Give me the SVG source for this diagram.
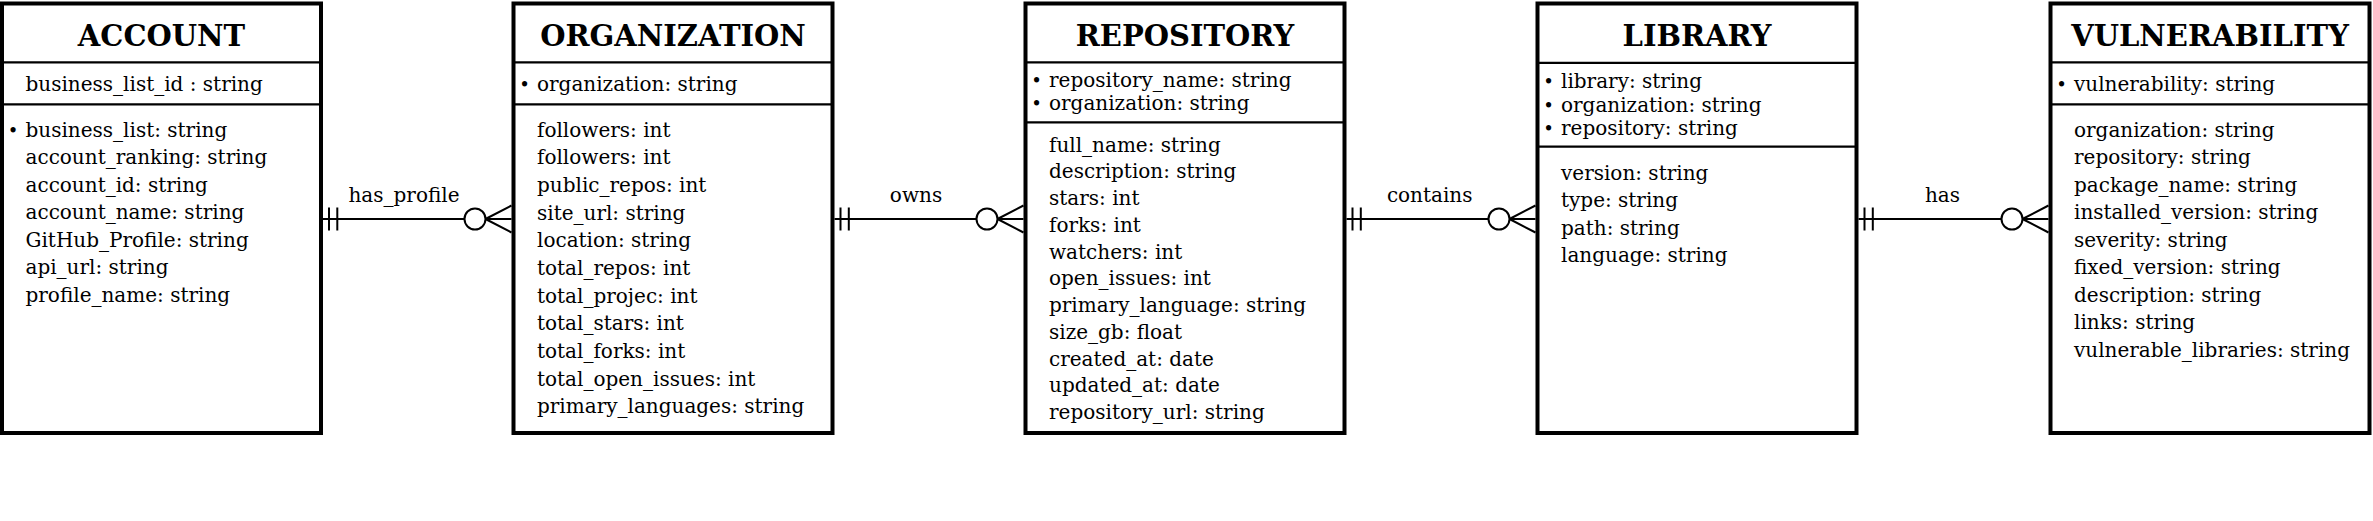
<svg xmlns="http://www.w3.org/2000/svg" width="2373" height="521" viewBox="0 0 2373 521">
<style>
.box{fill:#fff;stroke:#000;stroke-width:4}
.div{stroke:#000;stroke-width:2.2}
text{font-family:"DejaVu Serif","Liberation Serif",serif;fill:#000}
.title{font-size:29px;font-weight:bold;text-anchor:middle}
.a{font-size:20px}
.b{font-size:18px}
.lbl{font-size:20px;text-anchor:middle}
.conn{stroke:#000;stroke-width:2;fill:none}
</style>
<defs>
<marker id="one" markerUnits="userSpaceOnUse" viewBox="0 -14 20 28" refX="0" refY="0" markerWidth="20" markerHeight="28" orient="auto" overflow="visible">
<path d="M6 -11.5V11.5M14.3 -11.5V11.5" stroke="#000" stroke-width="2" fill="none"/>
</marker>
<marker id="many0" markerUnits="userSpaceOnUse" viewBox="-50 -16 52 32" refX="0" refY="0" markerWidth="52" markerHeight="32" orient="auto" overflow="visible">
<path d="M-26 0L0 -13.5M-26 0L0 13.5" stroke="#000" stroke-width="2" fill="none"/>
<circle cx="-36.5" cy="0" r="10.5" fill="#fff" stroke="#000" stroke-width="2"/>
</marker>
</defs>
<rect width="2373" height="521" fill="#fff"/>

<g id="connectors">
<g id="has_profile">
<path class="conn" d="M323 219H511.5" marker-start="url(#one)" marker-end="url(#many0)"/>
<text class="lbl" x="404" y="201.7">has_profile</text>
</g>
<g id="owns">
<path class="conn" d="M834.5 219H1023.5" marker-start="url(#one)" marker-end="url(#many0)"/>
<text class="lbl" x="916" y="201.7">owns</text>
</g>
<g id="contains">
<path class="conn" d="M1346.5 219H1535.5" marker-start="url(#one)" marker-end="url(#many0)"/>
<text class="lbl" x="1429.7" y="202">contains</text>
</g>
<g id="has">
<path class="conn" d="M1858.5 219H2048.5" marker-start="url(#one)" marker-end="url(#many0)"/>
<text class="lbl" x="1942.5" y="201.7">has</text>
</g>
</g>

<g id="account">
<rect class="box" x="2" y="3.5" width="319" height="429.5"/>
<line class="div" x1="2" y1="62.4" x2="321" y2="62.4"/>
<line class="div" x1="2" y1="104.4" x2="321" y2="104.4"/>
<text class="title" x="161.5" y="45.7">ACCOUNT</text>
<text class="a" x="25.5" y="90.7">business_list_id : string</text>
<text class="a" y="136.7"><tspan class="b" x="7.8">•</tspan><tspan x="25.5">business_list: string</tspan></text>
<text class="a" x="25.5" y="164.2">account_ranking: string</text>
<text class="a" x="25.5" y="191.7">account_id: string</text>
<text class="a" x="25.5" y="219.2">account_name: string</text>
<text class="a" x="25.5" y="246.7">GitHub_Profile: string</text>
<text class="a" x="25.5" y="274.2">api_url: string</text>
<text class="a" x="25.5" y="301.7">profile_name: string</text>
</g>

<g id="organization">
<rect class="box" x="513.5" y="3.5" width="319" height="429.5"/>
<line class="div" x1="513.5" y1="62.4" x2="832.5" y2="62.4"/>
<line class="div" x1="513.5" y1="104.4" x2="832.5" y2="104.4"/>
<text class="title" x="673" y="45.7">ORGANIZATION</text>
<text class="a" y="90.7"><tspan class="b" x="519.3">•</tspan><tspan x="537">organization: string</tspan></text>
<text class="a" x="537" y="136.7">followers: int</text>
<text class="a" x="537" y="164.4">followers: int</text>
<text class="a" x="537" y="192">public_repos: int</text>
<text class="a" x="537" y="219.7">site_url: string</text>
<text class="a" x="537" y="247.3">location: string</text>
<text class="a" x="537" y="275">total_repos: int</text>
<text class="a" x="537" y="302.7">total_projec: int</text>
<text class="a" x="537" y="330.3">total_stars: int</text>
<text class="a" x="537" y="358">total_forks: int</text>
<text class="a" x="537" y="385.6">total_open_issues: int</text>
<text class="a" x="537" y="413.3">primary_languages: string</text>
</g>

<g id="repository">
<rect class="box" x="1025.5" y="3.5" width="319" height="429.5"/>
<line class="div" x1="1025.5" y1="62.4" x2="1344.5" y2="62.4"/>
<line class="div" x1="1025.5" y1="122.3" x2="1344.5" y2="122.3"/>
<text class="title" x="1185" y="45.7">REPOSITORY</text>
<text class="a" y="87.3"><tspan class="b" x="1031.3">•</tspan><tspan x="1049">repository_name: string</tspan></text>
<text class="a" y="110"><tspan class="b" x="1031.3">•</tspan><tspan x="1049">organization: string</tspan></text>
<text class="a" x="1049" y="151.7">full_name: string</text>
<text class="a" x="1049" y="178.4">description: string</text>
<text class="a" x="1049" y="205.2">stars: int</text>
<text class="a" x="1049" y="231.9">forks: int</text>
<text class="a" x="1049" y="258.6">watchers: int</text>
<text class="a" x="1049" y="285.4">open_issues: int</text>
<text class="a" x="1049" y="312.1">primary_language: string</text>
<text class="a" x="1049" y="338.8">size_gb: float</text>
<text class="a" x="1049" y="365.5">created_at: date</text>
<text class="a" x="1049" y="392.3">updated_at: date</text>
<text class="a" x="1049" y="419">repository_url: string</text>
</g>

<g id="library">
<rect class="box" x="1537.5" y="3.5" width="319" height="429.5"/>
<line class="div" x1="1537.5" y1="62.8" x2="1856.5" y2="62.8"/>
<line class="div" x1="1537.5" y1="146.7" x2="1856.5" y2="146.7"/>
<text class="title" x="1697" y="45.7">LIBRARY</text>
<text class="a" y="88.3"><tspan class="b" x="1543.3">•</tspan><tspan x="1561">library: string</tspan></text>
<text class="a" y="111.5"><tspan class="b" x="1543.3">•</tspan><tspan x="1561">organization: string</tspan></text>
<text class="a" y="134.5"><tspan class="b" x="1543.3">•</tspan><tspan x="1561">repository: string</tspan></text>
<text class="a" x="1561" y="180">version: string</text>
<text class="a" x="1561" y="207.4">type: string</text>
<text class="a" x="1561" y="234.8">path: string</text>
<text class="a" x="1561" y="262.2">language: string</text>
</g>

<g id="vulnerability">
<rect class="box" x="2050.5" y="3.5" width="319" height="429.5"/>
<line class="div" x1="2050.5" y1="62.4" x2="2369.5" y2="62.4"/>
<line class="div" x1="2050.5" y1="104.4" x2="2369.5" y2="104.4"/>
<text class="title" x="2210" y="45.7">VULNERABILITY</text>
<text class="a" y="90.7"><tspan class="b" x="2056.3">•</tspan><tspan x="2074">vulnerability: string</tspan></text>
<text class="a" x="2074" y="136.7">organization: string</text>
<text class="a" x="2074" y="164.2">repository: string</text>
<text class="a" x="2074" y="191.7">package_name: string</text>
<text class="a" x="2074" y="219.2">installed_version: string</text>
<text class="a" x="2074" y="246.7">severity: string</text>
<text class="a" x="2074" y="274.2">fixed_version: string</text>
<text class="a" x="2074" y="301.7">description: string</text>
<text class="a" x="2074" y="329.2">links: string</text>
<text class="a" x="2074" y="356.7">vulnerable_libraries: string</text>
</g>
</svg>
